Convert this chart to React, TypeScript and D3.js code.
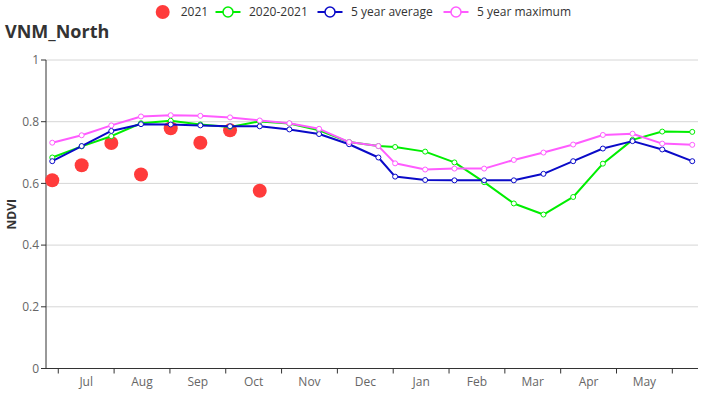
import React from "react";
import * as d3 from "d3";

// Month labels on the x axis (season Jul -> Jun)
const monthLabels = ["Jul", "Aug", "Sep", "Oct", "Nov", "Dec", "Jan", "Feb", "Mar", "Apr", "May"];
// Composite period positions, in months since Jul 1
const periodPos = [
  -0.108, 0.419, 0.95, 1.482, 2.014, 2.545, 3.077, 3.609, 4.14, 4.672, 5.21, 5.735,
  6.034, 6.572, 7.097, 7.629, 8.161, 8.692, 9.224, 9.756, 10.287, 10.819, 11.357,
];
// Series values (NDVI)
const ndvi2021 = [0.61, 0.659, 0.731, 0.629, 0.779, 0.732, 0.772, 0.576];
const ndvi2020_2021 = [
  0.684, 0.72, 0.753, 0.795, 0.803, 0.791, 0.783, 0.801, 0.794, 0.772, 0.734, 0.721,
  0.718, 0.703, 0.668, 0.604, 0.535, 0.499, 0.556, 0.664, 0.741, 0.768, 0.767,
];
const avg5 = [
  0.672, 0.721, 0.77, 0.792, 0.791, 0.788, 0.785, 0.785, 0.775, 0.76, 0.727, 0.684,
  0.622, 0.611, 0.61, 0.61, 0.61, 0.631, 0.672, 0.713, 0.737, 0.71, 0.672,
];
const max5 = [
  0.732, 0.756, 0.788, 0.817, 0.821, 0.819, 0.814, 0.804, 0.795, 0.777, 0.734, 0.721,
  0.665, 0.645, 0.648, 0.648, 0.676, 0.7, 0.726, 0.757, 0.761, 0.729, 0.725,
];
const yTicks = [0, 0.2, 0.4, 0.6, 0.8, 1];
const legendNames = ["2021", "2020-2021", "5 year average", "5 year maximum"];

const FONT = "'Open Sans', 'Noto Sans', sans-serif";
const C_RED = "#ff3b3b";
const C_GREEN = "#00ee00";
const C_BLUE = "#0a0ac8";
const C_MAG = "#ff5cff";

export default function App() {
  const W = 726;
  const H = 400;
  const x = d3.scaleLinear().domain([-0.22, 11.46]).range([46, 698]);
  const y = d3.scaleLinear().domain([0, 1]).range([368.5, 60]);

  const line = d3
    .line<number>()
    .x((_, i) => x(periodPos[i]))
    .y((d) => y(d));

  const lineSeries = [
    { name: legendNames[1], data: ndvi2020_2021, color: C_GREEN },
    { name: legendNames[2], data: avg5, color: C_BLUE },
    { name: legendNames[3], data: max5, color: C_MAG },
  ];

  const monthTicks = d3.range(0, 12);
  const [x0, x1] = x.range();

  // legend layout (icon centers and text starts)
  const legendIcons = [162.7, 228, 330, 456];

  return (
    <svg
      width={W}
      height={H}
      style={{ position: "absolute", left: 0, top: 0, background: "#fff" }}
      fontFamily={FONT}
    >
      {/* title */}
      <text x={5} y={38} fontSize={18} fontWeight="bold" fill="#333">
        VNM_North
      </text>

      {/* legend */}
      <g>
        <circle cx={legendIcons[0]} cy={12} r={7} fill={C_RED} />
        <text x={legendIcons[0] + 18} y={12} dy="0.35em" fontSize={12} fill="#333">
          {legendNames[0]}
        </text>
        {lineSeries.map((s, i) => {
          const cx = legendIcons[i + 1];
          return (
            <g key={s.name}>
              <line x1={cx - 12.5} x2={cx + 12.5} y1={12} y2={12} stroke={s.color} strokeWidth={2} />
              <circle cx={cx} cy={12} r={5} fill="#fff" stroke={s.color} strokeWidth={1.5} />
              <text x={cx + 21} y={12} dy="0.35em" fontSize={12} fill="#333">
                {s.name}
              </text>
            </g>
          );
        })}
      </g>

      {/* grid lines */}
      {yTicks.filter((t) => t > 0).map((t) => (
        <line key={"g" + t} x1={x0} x2={x1} y1={y(t)} y2={y(t)} stroke="#d6d6d6" strokeWidth={1} />
      ))}

      {/* y axis */}
      <line x1={x0} x2={x0} y1={y(1)} y2={y(0)} stroke="#333" strokeWidth={1} />
      {yTicks.map((t) => (
        <g key={"y" + t}>
          <line x1={x0 - 5} x2={x0} y1={y(t)} y2={y(t)} stroke="#333" />
          <text x={x0 - 7} y={y(t)} dy="0.35em" textAnchor="end" fontSize={12} fill="#666">
            {d3.format("~g")(t)}
          </text>
        </g>
      ))}
      <text
        transform={`translate(12,${(y(0) + y(1)) / 2}) rotate(-90)`}
        textAnchor="middle"
        dy="0.35em"
        fontSize={12}
        fontWeight="bold"
        fill="#333"
      >
        NDVI
      </text>

      {/* x axis */}
      <line x1={x0} x2={x1} y1={y(0)} y2={y(0)} stroke="#333" strokeWidth={1} />
      {monthTicks.map((m) => (
        <line key={"t" + m} x1={x(m)} x2={x(m)} y1={y(0)} y2={y(0) + 5} stroke="#333" />
      ))}
      {monthLabels.map((lab, i) => (
        <text key={lab} x={x(i + 0.5)} y={y(0) + 13} dy="0.35em" textAnchor="middle" fontSize={12} fill="#666">
          {lab}
        </text>
      ))}

      {/* 2021 scatter */}
      {ndvi2021.map((v, i) => (
        <circle key={"r" + i} cx={x(periodPos[i])} cy={y(v)} r={7} fill={C_RED} />
      ))}

      {/* line series */}
      {lineSeries.map((s) => (
        <g key={"s" + s.name}>
          <path d={line(s.data) || ""} fill="none" stroke={s.color} strokeWidth={2} strokeLinejoin="round" />
          {s.data.map((v, i) => (
            <circle key={i} cx={x(periodPos[i])} cy={y(v)} r={2.5} fill="#fff" stroke={s.color} strokeWidth={1} />
          ))}
        </g>
      ))}
    </svg>
  );
}
